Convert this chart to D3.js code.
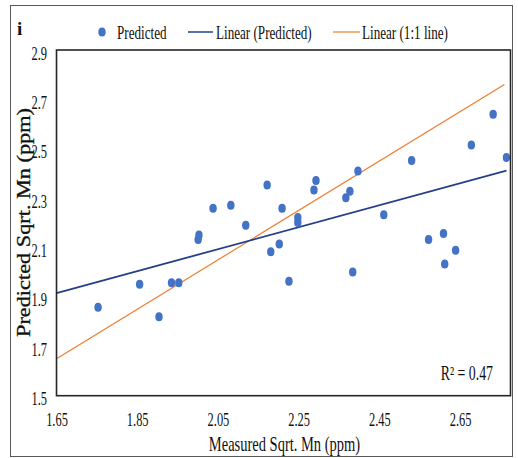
<!DOCTYPE html>
<html>
<head>
<meta charset="utf-8">
<script src="https://cdn.jsdelivr.net/npm/d3@7"></script>
<style>
  body { margin: 0; background: #fff; }
  text { font-family: "Liberation Serif", "Times New Roman", serif; fill: #111; }
</style>
</head>
<body>
<svg id="chart" width="518" height="458"></svg>
<script>
// values
const measured = [1.753, 1.856, 1.904, 1.935, 1.953, 2.001, 2.003, 2.038, 2.082, 2.119,
                  2.172, 2.209, 2.181, 2.202, 2.226, 2.248, 2.248, 2.293, 2.288, 2.367,
                  2.377, 2.397, 2.384, 2.461, 2.530, 2.572, 2.609, 2.612, 2.639, 2.678,
                  2.732, 2.765];
const predicted = [1.858, 1.951, 1.820, 1.957, 1.957, 2.133, 2.151, 2.259, 2.271, 2.190,
                   2.353, 2.259, 2.083, 2.114, 1.963, 2.222, 2.201, 2.372, 2.333, 2.302,
                   2.328, 2.410, 2.001, 2.233, 2.453, 2.133, 2.157, 2.033, 2.089, 2.515,
                   2.640, 2.465];
const xTicks = [1.65, 1.85, 2.05, 2.25, 2.45, 2.65];
const yTicks = [1.5, 1.7, 1.9, 2.1, 2.3, 2.5, 2.7, 2.9];
const oneToOne = [1.65, 2.76];
const trendStart = 1.65;
const rSquared = '0.47';

const svg = d3.select('#chart');
const plot = { left: 56.5, right: 510.5, top: 50, bottom: 395.7 };
const squeezeX = 0.69;

const x = d3.scaleLinear().domain([1.65, 2.775]).range([plot.left, plot.right]);
const y = d3.scaleLinear().domain([1.5, 2.9]).range([plot.bottom, plot.top]);

// the reference text is narrow, squeeze glyphs horizontally
function squeeze(sel, k) {
    sel.each(function () {
        const w = this.getComputedTextLength();
        d3.select(this).attr('textLength', w * k).attr('lengthAdjust', 'spacingAndGlyphs');
    });
}

// outer chart border
svg.append('rect')
    .attr('x', 10.5).attr('y', 5.5)
    .attr('width', 502).attr('height', 451)
    .attr('fill', 'none').attr('stroke', '#595959').attr('stroke-width', 1);

// least squares trendline
const mx = d3.mean(measured);
const my = d3.mean(predicted);
const slope = d3.sum(measured, (d, i) => (d - mx) * (predicted[i] - my)) /
    d3.sum(measured, (d) => (d - mx) * (d - mx));
const intercept = my - slope * mx;
const trendX = [trendStart, d3.max(measured)];

svg.append('line')
    .attr('x1', x(oneToOne[0])).attr('y1', y(oneToOne[0]))
    .attr('x2', x(oneToOne[1])).attr('y2', y(oneToOne[1]))
    .attr('stroke', '#ed7d31').attr('stroke-width', 1.2);

svg.append('line')
    .attr('x1', x(trendX[0])).attr('y1', y(intercept + slope * trendX[0]))
    .attr('x2', x(trendX[1])).attr('y2', y(intercept + slope * trendX[1]))
    .attr('stroke', '#25408a').attr('stroke-width', 1.8);

svg.append('g')
    .selectAll('ellipse')
    .data(measured)
    .enter()
    .append('ellipse')
    .attr('cx', (d) => x(d))
    .attr('cy', (d, i) => y(predicted[i]))
    .attr('rx', 3.7)
    .attr('ry', 4.5)
    .attr('fill', '#4472c4');

// plot frame
svg.append('rect')
    .attr('x', plot.left).attr('y', plot.top)
    .attr('width', plot.right - plot.left).attr('height', plot.bottom - plot.top)
    .attr('fill', 'none').attr('stroke', '#262626').attr('stroke-width', 1.6);

// axes
const xAxis = svg.append('g')
    .attr('transform', `translate(0,${plot.bottom})`)
    .call(d3.axisBottom(x).tickValues(xTicks).tickSize(0).tickPadding(17.5).tickFormat(d3.format('.2f')));
xAxis.select('.domain').remove();
xAxis.selectAll('text')
    .attr('font-size', 18)
    .attr('fill', '#111')
    .style('font-family', '"Liberation Serif", serif')
    .call(squeeze, squeezeX);

const yAxis = svg.append('g')
    .attr('transform', `translate(${plot.left - 9.5},0)`)
    .call(d3.axisLeft(y).tickValues(yTicks).tickSize(0).tickPadding(0).tickFormat(d3.format('.1f')));
yAxis.select('.domain').remove();
yAxis.selectAll('text')
    .attr('font-size', 18)
    .attr('dy', '0.5em')
    .attr('fill', '#111')
    .style('font-family', '"Liberation Serif", serif')
    .call(squeeze, squeezeX);

// axis titles
svg.append('text')
    .attr('x', 284.5).attr('y', 450.5)
    .attr('text-anchor', 'middle')
    .attr('font-size', 21)
    .text('Measured Sqrt. Mn (ppm)')
    .call(squeeze, squeezeX);

svg.append('text')
    .attr('transform', 'translate(30,222.5) rotate(-90)')
    .attr('text-anchor', 'middle')
    .attr('font-size', 18)
    .attr('textLength', 229)
    .attr('lengthAdjust', 'spacingAndGlyphs')
    .style('stroke', '#111')
    .style('stroke-width', 0.3)
    .text('Predicted Sqrt. Mn (ppm)');

// panel letter
svg.append('text')
    .attr('x', 17).attr('y', 35)
    .attr('font-size', 19)
    .attr('font-weight', 'bold')
    .text('i');

// R squared
svg.append('text')
    .attr('x', 493).attr('y', 380)
    .attr('text-anchor', 'end')
    .attr('font-size', 20)
    .text('R² = ' + rSquared)
    .call(squeeze, squeezeX);

// legend
const legend = svg.append('g').attr('transform', 'translate(0,32)');
legend.append('ellipse').attr('cx', 102).attr('cy', 0).attr('rx', 3.7).attr('ry', 4.5).attr('fill', '#4472c4');
legend.append('line').attr('x1', 188).attr('x2', 213).attr('y1', 0).attr('y2', 0)
    .attr('stroke', '#25408a').attr('stroke-width', 1.5);
legend.append('line').attr('x1', 333).attr('x2', 360).attr('y1', 0).attr('y2', 0)
    .attr('stroke', '#ed7d31').attr('stroke-width', 1.2);

const legendItems = [
    { label: 'Predicted', x: 117 },
    { label: 'Linear (Predicted)', x: 216 },
    { label: 'Linear (1:1 line)', x: 362 }
];
legend.selectAll('text.item')
    .data(legendItems)
    .enter()
    .append('text')
    .attr('class', 'item')
    .attr('x', (d) => d.x)
    .attr('y', 7)
    .attr('font-size', 19)
    .text((d) => d.label)
    .call(squeeze, squeezeX);
</script>
</body>
</html>
